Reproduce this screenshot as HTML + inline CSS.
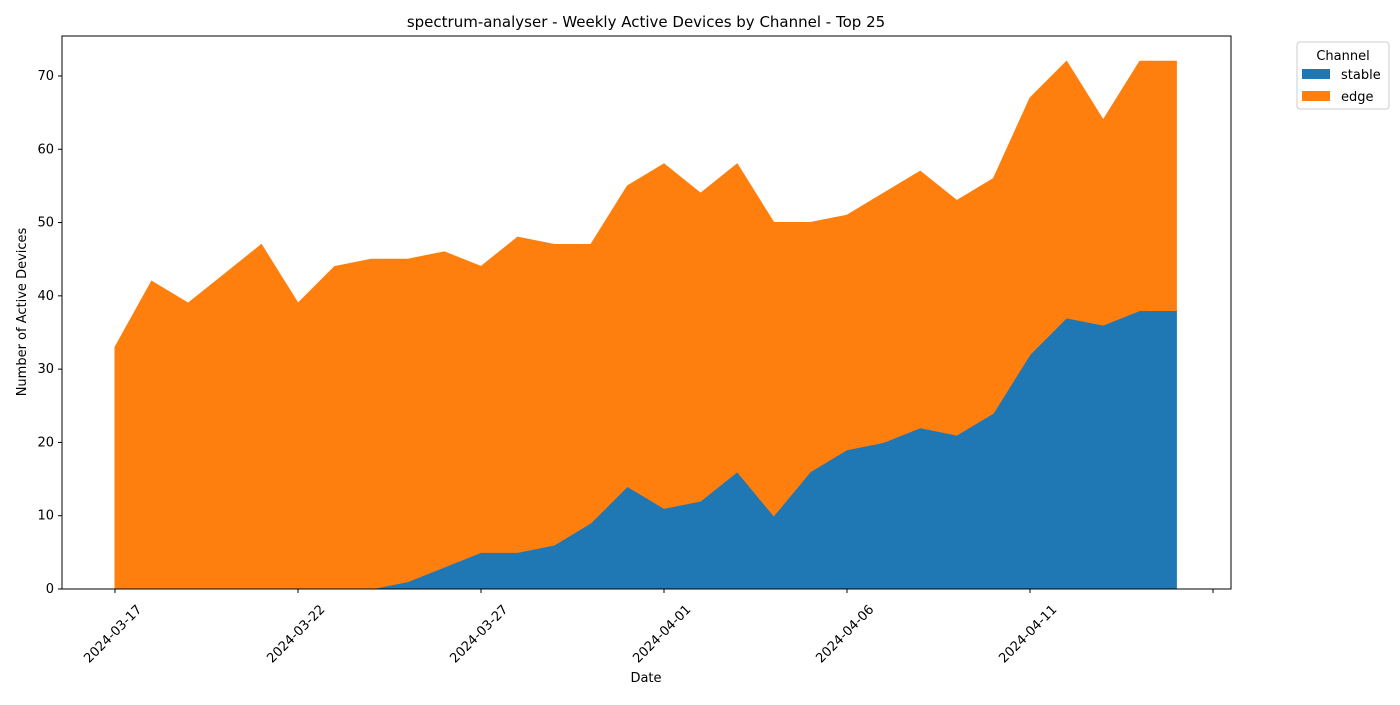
<!DOCTYPE html>
<html><head><meta charset="utf-8"><style>
body{margin:0;background:#fff;font-family:"Liberation Sans","DejaVu Sans",sans-serif;}
svg text{font-family:"DejaVu Sans","Liberation Sans",sans-serif;fill:#000}
</style></head><body>
<svg id="chart" width="1400" height="700" xmlns="http://www.w3.org/2000/svg"></svg>
<script>
const dates = ["03-17","03-18","03-19","03-20","03-21","03-22","03-23","03-24","03-25","03-26","03-27","03-28","03-29","03-30","03-31","04-01","04-02","04-03","04-04","04-05","04-06","04-07","04-08","04-09","04-10","04-11","04-12","04-13","04-14","04-15"];
const stable = [0,0,0,0,0,0,0,0,1,3,5,5,6,9,14,11,12,16,10,16,19,20,22,21,24,32,37,36,38,38];
const edge = [33,42,39,43,47,39,44,45,44,43,39,43,41,38,41,47,42,42,40,34,32,34,35,32,32,35,35,28,34,34];
const yTicks = [0,10,20,30,40,50,60,70];
const xTickLabels = ["2024-03-17","2024-03-22","2024-03-27","2024-04-01","2024-04-06","2024-04-11",""];
const xTickIdx = [0,5,10,15,20,25,30];

const svg = document.getElementById('chart');
const NS = 'http://www.w3.org/2000/svg';
const L=62,R=1231,T=36,B=589;
const x0=115, dx=36.6;
const ymax=(B-T)/7.329;
const xs = i => x0 + i*dx;
const ys = v => B - v/ymax*(B-T);
function el(tag, attrs, parent){const e=document.createElementNS(NS,tag);for(const k in attrs)e.setAttribute(k,attrs[k]);(parent||svg).appendChild(e);return e;}

let top1 = stable.map((v,i)=>[xs(i),ys(v)]);
let top2 = stable.map((v,i)=>[xs(i),ys(v+edge[i])]);
let p1 = 'M'+xs(0)+','+ys(0)+' '+top1.map(p=>'L'+p[0]+','+p[1]).join(' ')+' L'+xs(stable.length-1)+','+ys(0)+'Z';
const a1 = el('path',{d:p1,fill:'#1f77b4',stroke:'#1f77b4','stroke-width':1});


let p2 = 'M'+top1.map(p=>p[0]+','+p[1]).join(' L')+' '+top2.slice().reverse().map(p=>'L'+p[0]+','+p[1]).join(' ')+'Z';
const a2 = el('path',{d:p2,fill:'#ff7f0e',stroke:'#ff7f0e','stroke-width':1});



const fr = el('rect',{x:L,y:T,width:R-L,height:B-T,fill:'none',stroke:'#000','stroke-width':1});



yTicks.forEach(v=>{
  const y=ys(v);
  el('line',{x1:L-4,x2:L,y1:y,y2:y,stroke:'#000'});
  const t=el('text',{x:L-8,y:y+4,'text-anchor':'end','font-size':13});
  t.textContent=v;
  
  
});
xTickIdx.forEach((d,k)=>{
  const x=xs(d);
  el('line',{x1:x,x2:x,y1:B,y2:B+4,stroke:'#000'});
  if(xTickLabels[k]){
    const t=el('text',{x:0,y:4,'text-anchor':'middle','font-size':13,transform:`translate(${x-2} 634) rotate(-45)`});
    t.textContent=xTickLabels[k];
    
    
  }
});
const title=el('text',{x:646,y:27,'text-anchor':'middle','font-size':15});
title.textContent='spectrum-analyser - Weekly Active Devices by Channel - Top 25';


const xl=el('text',{x:646,y:682,'text-anchor':'middle','font-size':13});
xl.textContent='Date';


const yl=el('text',{x:26,y:312,'text-anchor':'middle','font-size':13,transform:'rotate(-90 26 312)'});
yl.textContent='Number of Active Devices';



const lg=el('g',{});


el('rect',{x:1297,y:42,width:92,height:67,rx:3,fill:'#fff',stroke:'#ccc'},lg);
const lt=el('text',{x:1343,y:60,'text-anchor':'middle','font-size':13},lg);
lt.textContent='Channel';
[['stable','#1f77b4',75],['edge','#ff7f0e',97]].forEach(([n,c,y])=>{
  const g=el('g',{},lg);
  
  
  el('rect',{x:1302,y:y-6,width:28,height:10,fill:c},g);
  const t=el('text',{x:1341,y:y+4,'font-size':13},g);
  t.textContent=n;
});
</script>
</body></html>
